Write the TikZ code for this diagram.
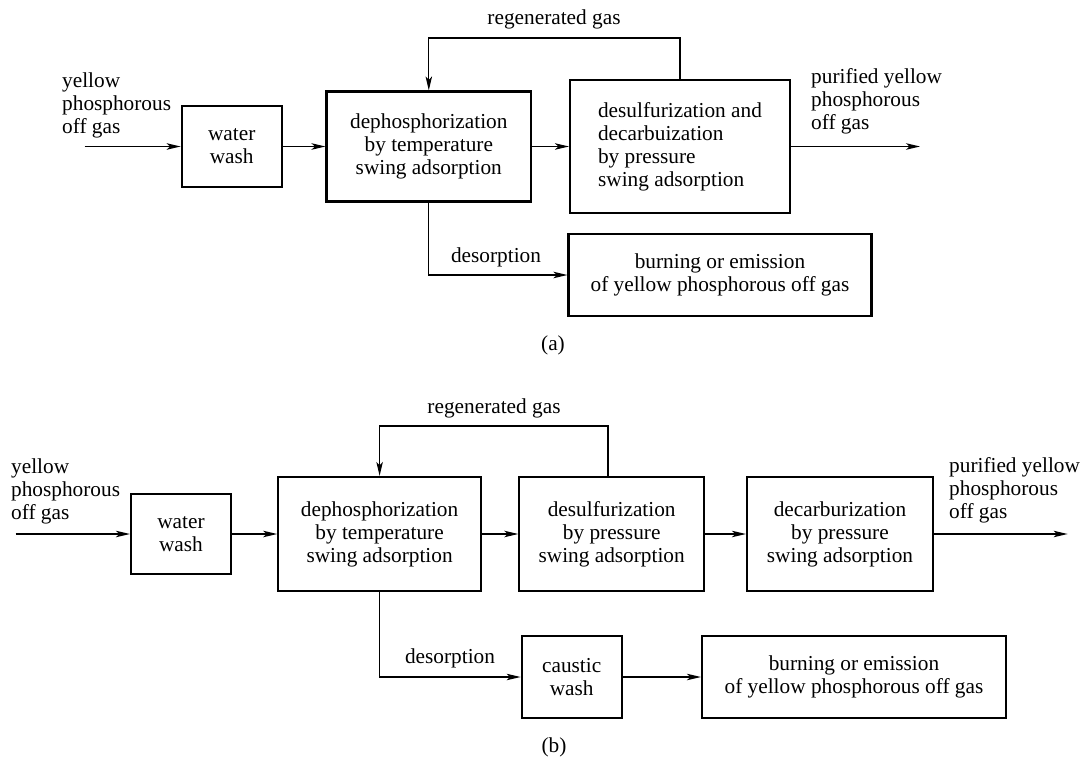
\documentclass[tikz,border=0pt]{standalone}
\usepackage{fontspec}
\setmainfont{Liberation Serif}
\usetikzlibrary{arrows.meta}
\tikzset{
  every node/.style={font=\fontsize{21.3}{23}\selectfont},
  proc/.style={draw, line width=2.2pt, align=center, inner sep=2pt},
  lbl/.style={inner sep=0pt, align=left},
  flow/.style={line width=1.2pt, -{Stealth[length=14pt,width=6.5pt,inset=3.5pt]}},
}
\begin{document}
\begin{tikzpicture}[x=1pt,y=-1pt]
\useasboundingbox (0,0) rectangle (1081,757);
% ---------- (a) ----------
\node[proc, minimum width=100pt, minimum height=81pt] (wwA) at (231.7,146.5) {water\\wash};
\node[proc, minimum width=204.5pt, minimum height=110pt] (dpA) at (428.8,146.5) {dephosphorization\\by temperature\\swing adsorption};
\node[proc, minimum width=220pt, minimum height=133.6pt, align=left] (dsA) at (680,146.5) {desulfurization and\\decarbuization\\by pressure\\swing adsorption};
\node[proc, minimum width=303pt, minimum height=81.4pt] (brA) at (720,275) {burning or emission\\of yellow phosphorous off gas};
\node[lbl, anchor=north west] (inA) at (62,72.5) {yellow\\phosphorous\\off gas};
\node[lbl, anchor=north west] (outA) at (811,68.5) {purified yellow\\phosphorous\\off gas};
\coordinate (sA) at (84.5,146.5);
\coordinate (eA) at (920,146.5);
\coordinate (rA) at (680,38);
\draw[flow] (sA) -- (wwA);
\draw[flow] (wwA) -- (dpA);
\draw[flow] (dpA) -- (dsA);
\draw[flow] (dsA) -- (eA);
\draw[flow] (dsA.north) -- (rA) -| (dpA.north);
\draw[flow] (dpA.south) |- (brA.west);
\node[lbl, anchor=base] (rgA) at (554,25) {regenerated gas};
\node[lbl, anchor=base] (deA) at (496,262) {desorption};
\node[lbl] (capA) at (553,345) {(a)};
% ---------- (b) ----------
\node[proc, minimum width=100pt, minimum height=80.6pt] (wwB) at (181,534) {water\\wash};
\node[proc, minimum width=202.7pt, minimum height=114pt] (dpB) at (379.6,534) {dephosphorization\\by temperature\\swing adsorption};
\node[proc, minimum width=184.7pt, minimum height=114pt] (dsB) at (611.7,534) {desulfurization\\by pressure\\swing adsorption};
\node[proc, minimum width=186pt, minimum height=114pt] (dcB) at (840,534) {decarburization\\by pressure\\swing adsorption};
\node[proc, minimum width=100pt, minimum height=81.5pt] (cwB) at (571.7,677) {caustic\\wash};
\node[proc, minimum width=304pt, minimum height=81.5pt] (brB) at (854,677) {burning or emission\\of yellow phosphorous off gas};
\node[lbl, anchor=north west] (inB) at (11,458.5) {yellow\\phosphorous\\off gas};
\node[lbl, anchor=north west] (outB) at (949,457.5) {purified yellow\\phosphorous\\off gas};
\coordinate (sB) at (15.5,534);
\coordinate (eB) at (1067.6,534);
\coordinate (rB) at (608,426);
\draw[flow] (sB) -- (wwB);
\draw[flow] (wwB) -- (dpB);
\draw[flow] (dpB) -- (dsB);
\draw[flow] (dsB) -- (dcB);
\draw[flow] (dcB) -- (eB);
\draw[flow] (rB |- dsB.north) -- (rB) -| (dpB.north);
\draw[flow] (dpB.south) |- (cwB.west);
\draw[flow] (cwB) -- (brB);
\node[lbl, anchor=base] (rgB) at (494,413) {regenerated gas};
\node[lbl, anchor=base] (deB) at (450,663) {desorption};
\node[lbl] (capB) at (554,747) {(b)};
\end{tikzpicture}
\end{document}
